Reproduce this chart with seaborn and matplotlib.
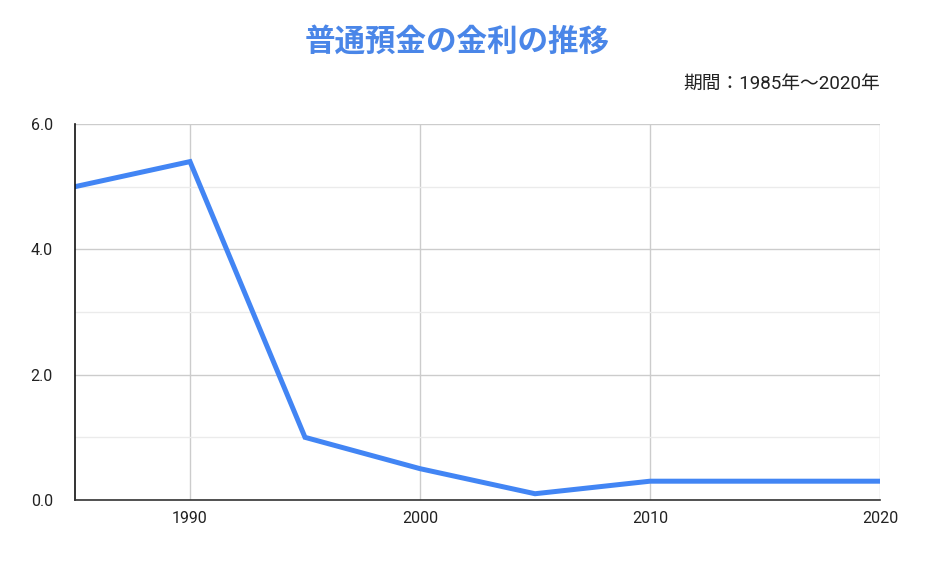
import pandas as pd
import numpy as np
import matplotlib.pyplot as plt
import seaborn as sns

# Datos: tasa de interés del depósito ordinario
anios = [1985, 1990, 1995, 2000, 2005, 2010, 2015, 2020]
tasas = [5.0, 5.4, 1.0, 0.5, 0.1, 0.3, 0.3, 0.3]
x_ticks = [1990, 2000, 2010, 2020]
y_ticks = [0.0, 2.0, 4.0, 6.0]

titulo = '普通預金の金利の推移'
subtitulo = '期間：1985年～2020年'

df = pd.DataFrame({'anio': anios, 'tasa': tasas})

sns.set_style('white')
plt.rcParams['font.family'] = ['Noto Sans CJK JP', 'DejaVu Sans']

fig = plt.figure(figsize=(9.4, 5.7), dpi=100)
ax = fig.add_axes([75/940, 70/570, 805/940, 376/570])

sns.lineplot(data=df, x='anio', y='tasa', color='#4285F4', linewidth=3.6,
             ax=ax, solid_joinstyle='miter')

ax.set_xlim(1985, 2020)
ax.set_ylim(0, 6)
ax.set_xticks(x_ticks)
ax.set_yticks(y_ticks)
ax.set_yticks([1, 3, 5], minor=True)
ax.set_yticklabels([f'{v:.1f}' for v in y_ticks], family='Roboto', fontsize=11.5, color='#222222')
ax.set_xticklabels([str(v) for v in x_ticks], family='Roboto', fontsize=11.5, color='#222222')
ax.set_xlabel('')
ax.set_ylabel('')

# Rejilla
ax.grid(True, which='major', color='#cccccc', linewidth=1)
ax.grid(True, which='minor', axis='y', color='#ebebeb', linewidth=1)
ax.set_axisbelow(True)

for lado in ['top', 'right']:
    ax.spines[lado].set_visible(False)
ax.spines['left'].set_color('#111111')
ax.spines['bottom'].set_color('#333333')
ax.spines['left'].set_linewidth(1.2)
ax.spines['bottom'].set_linewidth(1.2)

ax.tick_params(axis='y', which='major', length=10, width=1, color='#111111', pad=6)
ax.tick_params(axis='y', which='minor', length=0)
ax.tick_params(axis='x', length=0, pad=8)

fig.text(457/940, 1 - 42/570, titulo, ha='center', va='center',
         fontsize=22, fontweight='bold', color='#4a86e8')
fig.text(880/940, 1 - 84/570, subtitulo, ha='right', va='center',
         fontsize=13.5, color='#222222', family=['Roboto', 'Noto Sans CJK JP'])

fig.savefig('out.png', dpi=100, facecolor='white')
